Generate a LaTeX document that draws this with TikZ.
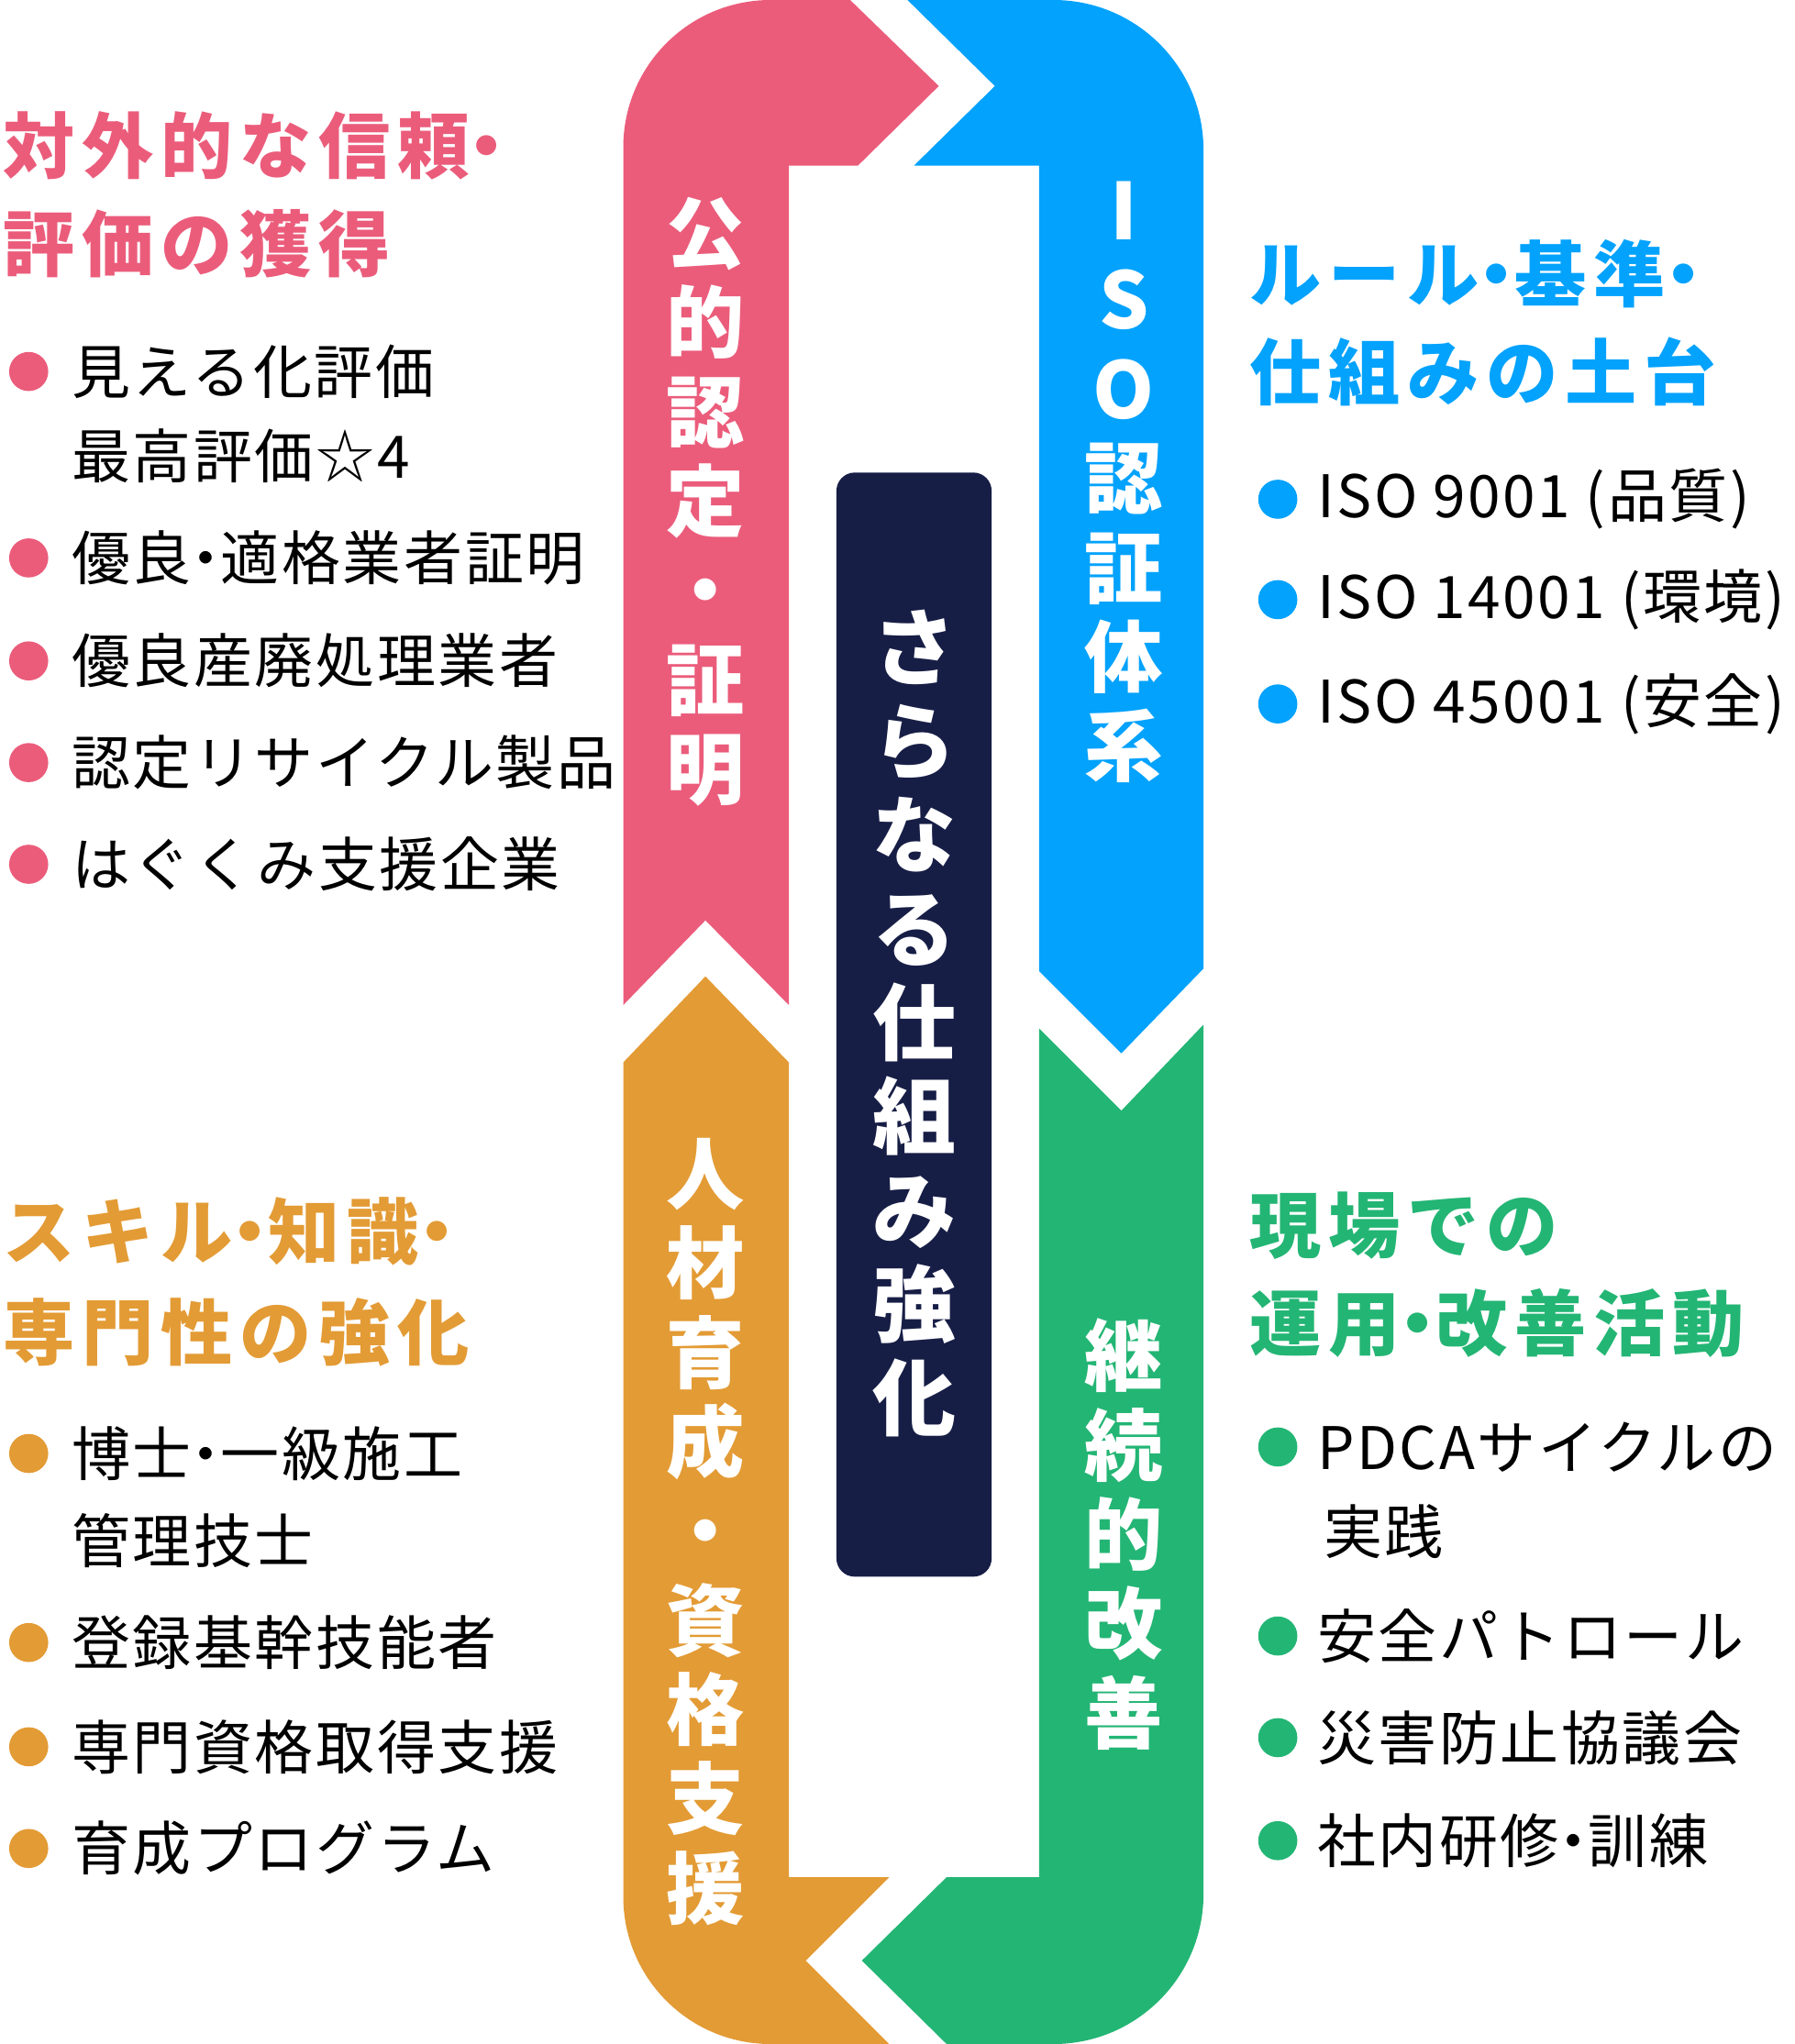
\documentclass[tikz,border=0pt]{standalone}
\usepackage{fontspec}
\setmainfont{Noto Sans CJK JP}
\definecolor{pinkc}{HTML}{EB5C7B}
\definecolor{bluec}{HTML}{03A2FD}
\definecolor{greenc}{HTML}{23B574}
\definecolor{orangec}{HTML}{E39B35}
\definecolor{navyc}{HTML}{171E46}
\newcommand\nakaten{\kern-0.25em・\kern-0.25em}
\tikzset{
  head/.style={anchor=west, inner sep=0pt, font=\fontsize{55}{70}\selectfont\bfseries\addfontfeature{LetterSpace=10}},
  item/.style={anchor=west, inner sep=0pt, font=\fontsize{45}{60}\selectfont\addfontfeature{LetterSpace=4}},
  dot/.style={circle, inner sep=0pt, minimum size=30pt},
  bandtext/.style={align=center, text=white, inner sep=0pt, font=\fontsize{60}{68.5}\selectfont\bfseries},
}
\begin{document}
\begin{tikzpicture}[x=1pt,y=-1pt]
  \useasboundingbox (0,0) rectangle (1376,1568);

  % the four arrows
  \fill [pinkc] (478,771) [rounded corners=113pt] -- (478,0) -- (620,0) [sharp corners] -- (652,0)
    -- (720,66) -- (658,127) -- (605,127) -- (605,771) -- (541,706) -- cycle;
  \fill [bluec] (696,0) -- (808,0) [rounded corners=115pt] -- (923,0) -- (923,300) [sharp corners]
    -- (923,743) -- (860,808) -- (797,745) -- (797,127) -- (701,127) -- (763,66) -- cycle;
  \fill [greenc] (797,789) -- (860,852) -- (923,786) [rounded corners=115pt] -- (923,1568) -- (780,1568)
    [sharp corners] -- (726,1568) -- (661,1504) -- (726,1440) -- (797,1440) -- cycle;
  \fill [orangec] (478,815) -- (541,749) -- (605,815) -- (605,1440) -- (682,1440) -- (618,1504)
    -- (682,1568) [rounded corners=113pt] -- (478,1568) -- (478,1300) [sharp corners] -- cycle;

  % centre
  \node [fill=navyc, rounded corners=14pt, minimum width=119pt, minimum height=847pt] (core) at (701,786) {};
  \node [bandtext, font=\fontsize{64}{72}\selectfont\bfseries] (coretext) at (701,785)
    {さ\\ら\\な\\る\\仕\\組\\み\\強\\化};

  \node [bandtext] (pinkband) at (541,385) {公\\的\\認\\定\\・\\証\\明};
  \node [bandtext] (blueband) at (862,370) {I\\S\\O\\認\\証\\体\\系};
  \node [bandtext] (greenband) at (862,1177) {継\\続\\的\\改\\善};
  \node [bandtext] (orangeband) at (541,1175) {人\\材\\育\\成\\・\\資\\格\\支\\援};

  % left top
  \node [head, text=pinkc] (ph1) at (2,112) {対外的な信頼\nakaten};
  \node [head, text=pinkc] (ph2) at (2,187) {評価の獲得};
  \node [dot, fill=pinkc] (pd1) at (22,285) {};
  \node [item] (pi1) at (55,285) {見える化評価};
  \node [item] (pi1b) at (55,350) {最高評価☆4};
  \node [dot, fill=pinkc] (pd2) at (22,428) {};
  \node [item] (pi2) at (55,428) {優良\nakaten 適格業者証明};
  \node [dot, fill=pinkc] (pd3) at (22,507) {};
  \node [item] (pi3) at (55,507) {優良産廃処理業者};
  \node [dot, fill=pinkc] (pd4) at (22,585) {};
  \node [item] (pi4) at (55,585) {認定リサイクル製品};
  \node [dot, fill=pinkc] (pd5) at (22,663) {};
  \node [item] (pi5) at (55,663) {はぐくみ支援企業};

  % right top
  \node [head, text=bluec] (bh1) at (958,210) {ルール\nakaten 基準\nakaten};
  \node [head, text=bluec] (bh2) at (958,285) {仕組みの土台};
  \node [dot, fill=bluec] (bd1) at (980,383) {};
  \node [item] (bi1) at (1010,383) {ISO 9001 (品質)};
  \node [dot, fill=bluec] (bd2) at (980,460) {};
  \node [item] (bi2) at (1010,460) {ISO 14001 (環境)};
  \node [dot, fill=bluec] (bd3) at (980,540) {};
  \node [item] (bi3) at (1010,540) {ISO 45001 (安全)};

  % left bottom
  \node [head, text=orangec] (oh1) at (2,945) {スキル\nakaten 知識\nakaten};
  \node [head, text=orangec] (oh2) at (2,1022) {専門性の強化};
  \node [dot, fill=orangec] (od1) at (22,1115) {};
  \node [item] (oi1) at (55,1115) {博士\nakaten 一級施工};
  \node [item] (oi1b) at (55,1182) {管理技士};
  \node [dot, fill=orangec] (od2) at (22,1260) {};
  \node [item] (oi2) at (55,1260) {登録基幹技能者};
  \node [dot, fill=orangec] (od3) at (22,1340) {};
  \node [item] (oi3) at (55,1340) {専門資格取得支援};
  \node [dot, fill=orangec] (od4) at (22,1418) {};
  \node [item] (oi4) at (55,1418) {育成プログラム};

  % right bottom
  \node [head, text=greenc] (gh1) at (958,940) {現場での};
  \node [head, text=greenc] (gh2) at (958,1015) {運用\nakaten 改善活動};
  \node [dot, fill=greenc] (gd1) at (980,1110) {};
  \node [item] (gi1) at (1010,1110) {PDCAサイクルの};
  \node [item] (gi1b) at (1015,1175) {実践};
  \node [dot, fill=greenc] (gd2) at (980,1255) {};
  \node [item] (gi2) at (1010,1255) {安全パトロール};
  \node [dot, fill=greenc] (gd3) at (980,1333) {};
  \node [item] (gi3) at (1010,1333) {災害防止協議会};
  \node [dot, fill=greenc] (gd4) at (980,1412) {};
  \node [item] (gi4) at (1010,1412) {社内研修\nakaten 訓練};
\end{tikzpicture}
\end{document}
